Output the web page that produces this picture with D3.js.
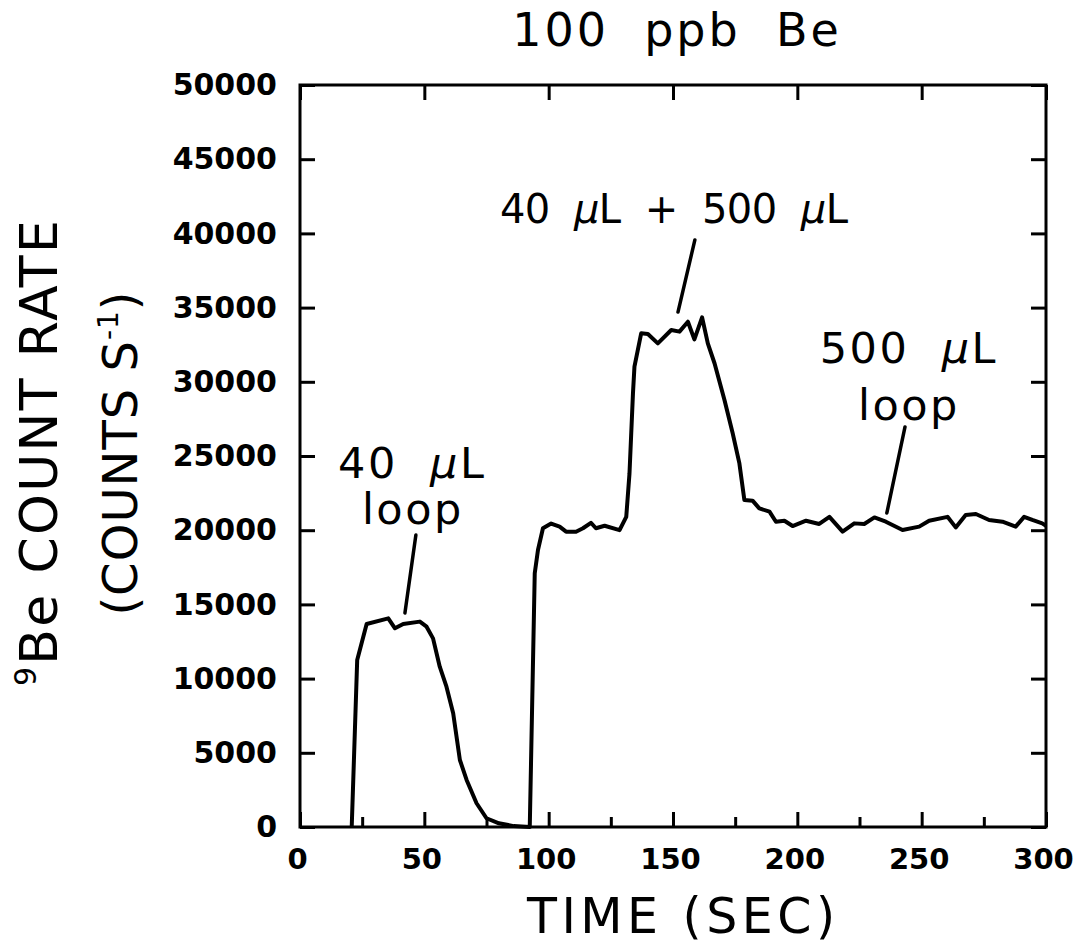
<!DOCTYPE html>
<html>
<head>
<meta charset="utf-8">
<script src="https://cdn.jsdelivr.net/npm/d3@7"></script>
<style>
  body { margin: 0; background: #fff; }
  text { font-family: "DejaVu Sans", sans-serif; fill: #000; }
</style>
</head>
<body>
<div id="chart"></div>
<script>
// Data
const timeSec = [20.8, 23, 26.8, 35.5, 38.2, 41.5, 48.2, 50.9, 53.5, 56.2, 58.9, 61.6, 64.3, 67, 71, 75, 80, 86,
    92.4, 94.4, 95.7, 97.7, 101, 104.4, 107, 111, 113.8, 117, 119, 122.5, 128.5, 131.2, 132.5, 133.9, 134.5,
    137.2, 139.9, 143.9, 149.3, 152.6, 156, 158.6, 161.7, 164, 166.7, 170.7, 174, 176.7, 178.7, 182, 184.7,
    188.8, 191.4, 194.8, 198.1, 203.5, 208.8, 212.9, 218.2, 222.9, 226.9, 231, 235.6, 242.3, 249, 253,
    260.4, 263.7, 267.7, 271.8, 277.1, 282.5, 287.8, 291.2, 294.5, 298.5, 300]
const countRate = [0, 11250, 13680, 14060, 13390, 13680, 13840, 13500, 12710, 10800, 9455, 7660, 4515, 3170, 1600, 590, 250, 60,
    0, 17100, 18670, 20130, 20450, 20240, 19900, 19900, 20130, 20500, 20130, 20300, 20000, 20900, 23820, 29220, 31020,
    33270, 33220, 32590, 33490, 33380, 34050, 32860, 34340, 32590, 31250, 28780, 26530, 24500, 22040, 21990, 21470,
    21250, 20570, 20640, 20280, 20640, 20420, 20900, 19900, 20460, 20420, 20860, 20570, 20010, 20240, 20640,
    20900, 20190, 21030, 21090, 20690, 20570, 20240, 20900, 20690, 20460, 20300]

const xTicks = [0, 50, 100, 150, 200, 250, 300]
const xMinorTicks = [25, 75, 125, 175, 225, 275]
const yTicks = [0, 5000, 10000, 15000, 20000, 25000, 30000, 35000, 40000, 45000, 50000]

// annotation labels: text parts, time and counts at baseline-left
const labels = [
    {parts: ["40  ", "µ", "L"], t: 15.3, v: 23500},
    {parts: ["loop"], t: 24.9, v: 20400},
    {parts: ["40  ", "µ", "L  +  500  ", "µ", "L"], t: 80.4, v: 40700, w: 348},
    {parts: ["500  ", "µ", "L"], t: 209, v: 31270},
    {parts: ["loop"], t: 224.4, v: 27430}
]
// leader lines: t1, v1, t2, v2
const leaders = [
    [46.6, 19680, 42.2, 14420],
    [158.8, 39560, 152, 34700],
    [243.3, 26960, 236, 21160]
]

const W = 1081, H = 947
const svg = d3.select("#chart").append("svg")
    .attr("width", W)
    .attr("height", H)

const x = d3.scaleLinear().domain([0, 300]).range([300, 1046])
const y = d3.scaleLinear().domain([0, 50000]).range([827, 85])

// axes with inward ticks
const styleAxis = g => {
    g.select(".domain").remove()
    g.selectAll(".tick line").attr("stroke", "#000").attr("stroke-width", 3)
}

svg.append("g")
    .attr("transform", "translate(300,0)")
    .call(d3.axisLeft(y).tickValues(yTicks).tickSize(-15).tickPadding(23).tickFormat(d3.format("d")))
    .call(styleAxis)
    .selectAll("text")
    .style("font-size", "30px").style("font-weight", "bold")

svg.append("g")
    .attr("transform", "translate(1046,0)")
    .call(d3.axisRight(y).tickValues(yTicks).tickSize(-15).tickFormat(""))
    .call(styleAxis)

svg.append("g")
    .attr("transform", "translate(0,827)")
    .call(d3.axisBottom(x).tickValues(xTicks).tickSize(-15).tickPadding(21).tickFormat(d3.format("d")))
    .call(styleAxis)
    .selectAll("text")
    .attr("dx", -3)
    .style("font-size", "29px").style("font-weight", "bold")

svg.append("g")
    .attr("transform", "translate(0,827)")
    .call(d3.axisBottom(x).tickValues(xMinorTicks).tickSize(-10).tickFormat(""))
    .call(styleAxis)

svg.append("g")
    .attr("transform", "translate(0,85)")
    .call(d3.axisTop(x).tickValues(xTicks).tickSize(-15).tickFormat(""))
    .call(styleAxis)

// frame
svg.append("rect")
    .attr("x", x(0)).attr("y", y(50000))
    .attr("width", x(300) - x(0)).attr("height", y(0) - y(50000))
    .attr("fill", "none").attr("stroke", "#000").attr("stroke-width", 3)

// data line
const line = d3.line().x(d => x(d[0])).y(d => y(d[1]))
svg.append("path")
    .datum(d3.zip(timeSec, countRate))
    .attr("d", line)
    .attr("fill", "none")
    .attr("stroke", "#000")
    .attr("stroke-width", 4)
    .attr("stroke-linejoin", "round")

// leaders
svg.selectAll(".leader")
    .data(leaders)
    .enter()
    .append("line")
    .attr("x1", d => x(d[0])).attr("y1", d => y(d[1]))
    .attr("x2", d => x(d[2])).attr("y2", d => y(d[3]))
    .attr("stroke", "#000").attr("stroke-width", 3.5).attr("stroke-linecap", "round")

// annotation text
labels.forEach(l => {
    const t = svg.append("text")
        .attr("x", x(l.t)).attr("y", y(l.v))
        .style("font-size", l.w ? "40px" : "43px")
        .style("letter-spacing", l.w ? "0px" : "2.5px")
        .style("white-space", "pre")
    if (l.w) t.attr("textLength", l.w).attr("lengthAdjust", "spacing")
    l.parts.forEach(p => {
        t.append("tspan").text(p).style("font-style", p === "µ" ? "italic" : "normal")
    })
})

// title
svg.append("text")
    .attr("x", 677).attr("y", 46)
    .attr("text-anchor", "middle")
    .style("font-size", "46px")
    .style("letter-spacing", "3px")
    .style("white-space", "pre")
    .text("100  ppb  Be")

// x axis title
svg.append("text")
    .attr("x", 681).attr("y", 933)
    .attr("text-anchor", "middle")
    .attr("textLength", 308).attr("lengthAdjust", "spacing")
    .style("font-size", "49px")
    .style("white-space", "pre")
    .text("TIME (SEC)")

// y axis title, two lines
const yt1 = svg.append("text")
    .attr("transform", "translate(57,452) rotate(-90)")
    .attr("text-anchor", "middle")
    .style("font-size", "52px")
    .style("letter-spacing", "2.3px")
    .style("white-space", "pre")
yt1.append("tspan").text("9").style("font-size", "30px").attr("dy", -21)
yt1.append("tspan").text("Be COUNT RATE").attr("dy", 21)

const yt2 = svg.append("text")
    .attr("transform", "translate(137,453) rotate(-90)")
    .attr("text-anchor", "middle")
    .style("font-size", "48px")
    .style("letter-spacing", "1px")
    .style("white-space", "pre")
yt2.append("tspan").text("(COUNTS S")
yt2.append("tspan").text("-1").style("font-size", "28px").attr("dy", -19)
yt2.append("tspan").text(")").attr("dy", 19)
</script>
</body>
</html>
